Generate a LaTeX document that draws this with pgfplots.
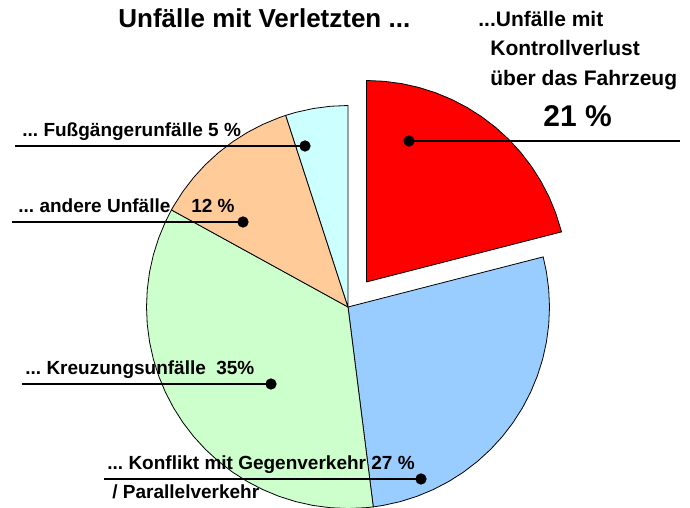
\documentclass[border=0pt]{standalone}
\usepackage{pgfplots}
\pgfplotsset{compat=1.18}
\usepgfplotslibrary{polar}
\usepackage{fontspec}
\setmainfont{Liberation Sans}
\definecolor{cred}{HTML}{FF0000}
\definecolor{cblue}{HTML}{99CCFF}
\definecolor{cgreen}{HTML}{CCFFCC}
\definecolor{corange}{HTML}{FFCC99}
\definecolor{ccyan}{HTML}{CCFFFF}
\frenchspacing
\begin{document}
\begin{tikzpicture}
\begin{axis}[
  x=0.5pt, y=0.5pt,
  xmin=-348, xmax=342, ymin=-201, ymax=307,
  hide axis,
]
% slices (angle, radius)
\addplot[fill=cblue, draw=black, line width=0.4pt, data cs=polar] coordinates {
 (0,0) (-82.8,201.5) (-80,201.5) (-75,201.5) (-70,201.5) (-65,201.5) (-60,201.5) (-55,201.5) (-50,201.5) (-45,201.5) (-40,201.5) (-35,201.5) (-30,201.5) (-25,201.5) (-20,201.5) (-15,201.5) (-10,201.5) (-5,201.5) (0,201.5) (5,201.5) (10,201.5) (14.4,201.5) (0,0)};
\addplot[fill=cgreen, draw=black, line width=0.4pt, data cs=polar] coordinates {
 (0,0) (151.2,201.5) (155,201.5) (160,201.5) (165,201.5) (170,201.5) (175,201.5) (180,201.5) (185,201.5) (190,201.5) (195,201.5) (200,201.5) (205,201.5) (210,201.5) (215,201.5) (220,201.5) (225,201.5) (230,201.5) (235,201.5) (240,201.5) (245,201.5) (250,201.5) (255,201.5) (260,201.5) (265,201.5) (270,201.5) (275,201.5) (277.2,201.5) (0,0)};
\addplot[fill=corange, draw=black, line width=0.4pt, data cs=polar] coordinates {
 (0,0) (108,201.5) (110,201.5) (115,201.5) (120,201.5) (125,201.5) (130,201.5) (135,201.5) (140,201.5) (145,201.5) (150,201.5) (151.2,201.5) (0,0)};
\addplot[fill=ccyan, draw=black, line width=0.4pt, data cs=polar] coordinates {
 (0,0) (90,201.5) (95,201.5) (100,201.5) (105,201.5) (108,201.5) (0,0)};
\addplot[fill=cred, draw=black, line width=0.4pt, data cs=polar, xshift=9.2pt, yshift=12.5pt] coordinates {
 (0,0) (14.4,201.5) (20,201.5) (25,201.5) (30,201.5) (35,201.5) (40,201.5) (45,201.5) (50,201.5) (55,201.5) (60,201.5) (65,201.5) (70,201.5) (75,201.5) (80,201.5) (85,201.5) (90,201.5) (0,0)};
% leader lines
\addplot[black, line width=1.45pt] coordinates {(-333,161) (-43,161)};
\addplot[black, line width=1.45pt] coordinates {(-336,85) (-105,85)};
\addplot[black, line width=1.45pt] coordinates {(-326,-77) (-77,-77)};
\addplot[black, line width=1.45pt] coordinates {(-244,-172) (73,-172)};
\addplot[black, line width=1.45pt] coordinates {(61,166) (332,166)};
\addplot[only marks, mark=*, mark size=2.6pt, black] coordinates {(-43,161) (-105,85) (-77,-77) (73,-172) (61,166)};
% texts
\node[anchor=base west, inner sep=0pt, font=\bfseries\fontsize{13}{15}\selectfont] at (axis cs:-230,279) {Unfälle mit Verletzten ...};
\node[anchor=base west, inner sep=0pt, font=\bfseries\fontsize{10.5}{12}\selectfont] at (axis cs:130,280) {...Unfälle mit};
\node[anchor=base west, inner sep=0pt, font=\bfseries\fontsize{10.5}{12}\selectfont] at (axis cs:142,251) {Kontrollverlust};
\node[anchor=base west, inner sep=0pt, font=\bfseries\fontsize{10.5}{12}\selectfont] at (axis cs:142,221) {über das Fahrzeug};
\node[anchor=base west, inner sep=0pt, font=\bfseries\fontsize{15}{17}\selectfont] at (axis cs:195,180) {21 \%};
\node[anchor=base west, inner sep=0pt, font=\bfseries\fontsize{9.5}{11}\selectfont] at (axis cs:-326,170) {... Fußgängerunfälle 5 \%};
\node[anchor=base west, inner sep=0pt, font=\bfseries\fontsize{9.5}{11}\selectfont] at (axis cs:-330,94) {... andere Unfälle\hspace{1.1em}12 \%};
\node[anchor=base west, inner sep=0pt, font=\bfseries\fontsize{9.5}{11}\selectfont] at (axis cs:-323,-68) {... Kreuzungsunfälle\hspace{0.55em}35\%};
\node[anchor=base west, inner sep=0pt, font=\bfseries\fontsize{9.5}{11}\selectfont] at (axis cs:-241,-163) {... Konflikt mit Gegenverkehr 27 \%};
\node[anchor=base west, inner sep=0pt, font=\bfseries\fontsize{9.5}{11}\selectfont] at (axis cs:-236,-192) {/ Parallelverkehr};
\end{axis}
\path (current axis.south west) rectangle (current axis.north east);
\end{tikzpicture}
\end{document}
